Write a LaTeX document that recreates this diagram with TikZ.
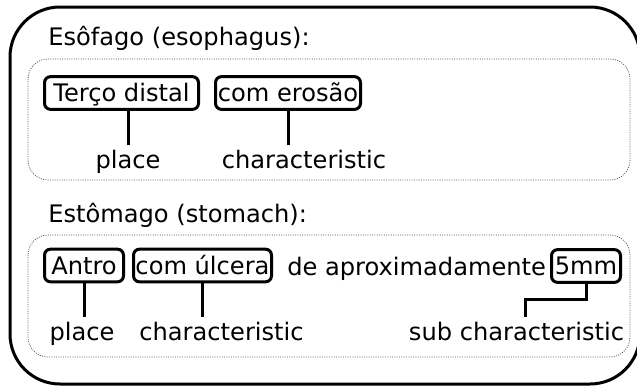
\documentclass[tikz,border=0pt]{standalone}
\usepackage{fontspec}
\setmainfont{DejaVu Sans}
\begin{document}
\begin{tikzpicture}[x=0.75pt,y=-0.75pt,
  every node/.style={font=\fontsize{18.1pt}{22pt}\selectfont, inner sep=0pt},
  outerbox/.style={line width=2.25pt, rounded corners=37.5pt},
  groupbox/.style={draw=black!65, line width=0.6pt, dash pattern=on 0.75pt off 1pt, rounded corners=15pt},
  tag/.style={draw, line width=2.25pt, rounded corners=4.5pt, text height=13.2pt, text depth=0pt, minimum height=24.5pt},
  lbl/.style={anchor=base, inner xsep=0pt, inner ysep=3pt, text height=13.8pt, text depth=4.3pt},
  conn/.style={line width=2.25pt}
]
\clip (0,0) rectangle (637,387);
% outer frame
\draw[outerbox] (10,7) rectangle (640,384);
% group containers
\draw[groupbox] (28,59) rectangle (630,180);
\draw[groupbox] (28,235) rectangle (630,357);
% titles
\node[anchor=base west] (h1) at (48,45) {Esôfago (esophagus):};
\node[anchor=base west] (h2) at (48,222) {Estômago (stomach):};
% row 1
\node[tag, minimum width=115.5pt] (t1) at (121.5,93) {Terço distal};
\node[tag, minimum width=108.75pt] (c1) at (288,93) {com erosão};
\node[lbl] (pl1) at (128,168) {place};
\node[lbl] (ch1) at (304,168) {characteristic};
\draw[conn] (t1.south -| pl1.north) -- (pl1.north);
\draw[conn] (c1.south) -- (c1.south |- ch1.north);
% row 2
\node[tag, minimum width=59.25pt] (a2) at (84,265.5) {Antro};
\node[tag, minimum width=103.5pt] (u2) at (202.5,265.5) {com úlcera};
\node[anchor=base west] (dap) at (287,275) {de aproximadamente};
\node[tag, minimum width=51.75pt] (m2) at (586,266) {5mm};
\node[lbl] (pl2) at (82,340) {place};
\node[lbl] (ch2) at (221.5,340) {characteristic};
\node[lbl] (sc) at (516.5,340) {sub characteristic};
\coordinate (sctop) at ([xshift=6.5pt]sc.north);
\draw[conn] (a2.south) -- (a2.south |- pl2.north);
\draw[conn] (u2.south) -- (u2.south |- ch2.north);
\draw[conn] (m2.south) -- ++(0,16) -| (sctop);
\end{tikzpicture}
\end{document}
